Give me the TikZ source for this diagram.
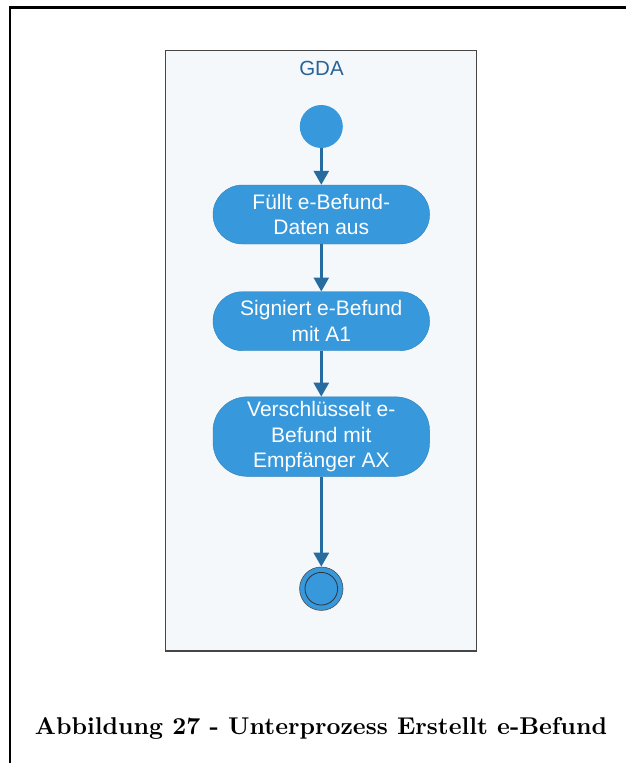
\documentclass[tikz,border=0pt]{standalone}
\usepackage{fontspec}
\setsansfont{Liberation Sans}
\usetikzlibrary{arrows.meta}
\definecolor{actfill}{RGB}{55,152,219}
\definecolor{flowline}{RGB}{38,108,160}
\definecolor{lanefill}{RGB}{244,248,251}
\definecolor{laneborder}{RGB}{70,70,70}
\definecolor{lanetitle}{RGB}{40,100,150}
\begin{document}
\begin{tikzpicture}[x=1pt,y=-1pt,
  actbox/.style={draw=actfill!85!black, line width=0.4pt, fill=actfill, text=white,
    rounded corners=#1, minimum width=216.6pt, inner sep=0pt, align=center,
    font=\sffamily\fontsize{21}{25.5}\selectfont},
  startdot/.style={circle, fill=actfill, minimum size=43pt, inner sep=0pt},
  enddot/.style={circle, fill=actfill, draw=black!70, line width=0.6pt, minimum size=43.4pt, inner sep=0pt},
  flow/.style={draw=flowline, line width=2.8pt, -{Triangle[length=14pt,width=15pt]}}
]
\useasboundingbox (0,0) rectangle (626,763);
% outer frame (top and left rules)
\draw[line width=2.3pt] (10,763) -- (10,7.5) -- (626,7.5);
% swimlane
\draw[laneborder, line width=1.8pt, fill=lanefill] (165.5,50.5) rectangle (476.5,651.2);
\node[text=lanetitle, font=\sffamily\fontsize{20.5}{24}\selectfont] (lane) at (321.5,68.5) {GDA};
% activity nodes, all on one vertical axis
\def\axis{321.3}
\node[startdot] (start) at (\axis,126.5) {};
\node[actbox=29.5pt, minimum height=59pt] (fill) at (\axis,214.5) {Füllt e-Befund-\\Daten aus};
\node[actbox=29.5pt, minimum height=59pt] (sign) at (\axis,321.2) {Signiert e-Befund\\mit A1};
\node[actbox=34pt, minimum height=79.5pt] (enc) at (\axis,436.6) {Verschlüsselt e-\\Befund mit\\Empfänger AX};
\node[enddot] (end) at (\axis,588.7) {};
\draw[black!80, line width=0.8pt] (end) circle[radius=16.3pt];
% control flow
\draw[flow] (start) -- (fill);
\draw[flow] (fill) -- (sign);
\draw[flow] (sign) -- (enc);
\draw[flow] (enc) -- (end);
% caption
\node[anchor=base, inner sep=0pt] (caption) at (321,734)
  {\resizebox{572pt}{!}{\bfseries Abbildung 27 - Unterprozess Erstellt e-Befund}};
\end{tikzpicture}
\end{document}
